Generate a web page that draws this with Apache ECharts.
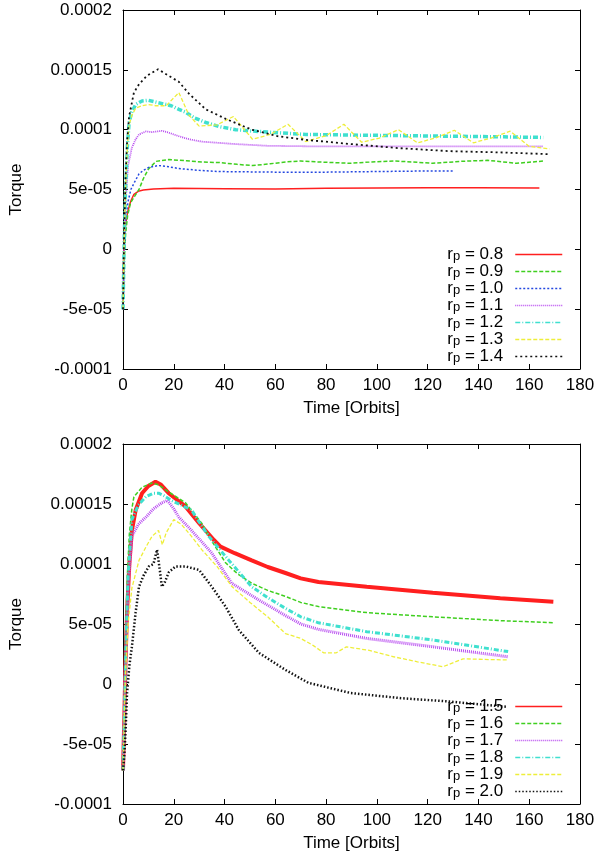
<!DOCTYPE html>
<html>
<head>
<meta charset="utf-8">
<script src="https://cdn.jsdelivr.net/npm/echarts@6/dist/echarts.min.js"></script>
<style>html,body{margin:0;padding:0;background:#fff;}#c{width:600px;height:859px;}</style>
</head>
<body>
<div id="c"></div>
<script>
// values in units of 1e-5 (torque), time in orbits
const SCALE = 1e-5;
const xTicksMin = 0, xTicksMax = 180, xTickStep = 20;
const yTickLabels = ['-0.0001', '-5e-05', '0', '5e-05', '0.0001', '0.00015', '0.0002'];

// top panel
const top08 = [[0,-2],[0.5,0.5],[1,2],[1.8,3.1],[3,4],[4.3,4.6],[6,4.85],[8,4.95],[12,5.05],[20,5.1],[40,5.07],[60,5.05],[80,5.1],[100,5.12],[120,5.15],[140,5.15],[164,5.12]];
const top09 = [[0,-5],[0.5,-1],[1,1.2],[1.8,2.8],[3,3.9],[4.5,4.4],[6.3,5.0],[8,5.9],[10,6.7],[13,7.35],[18,7.5],[25,7.4],[31,7.3],[38,7.25],[45,7.1],[51,7.0],[58,7.15],[64,7.3],[70,7.38],[77,7.3],[89.6,7.19],[98,7.3],[106.5,7.38],[114,7.3],[122,7.19],[133,7.35],[143.5,7.44],[155,7.19],[165.5,7.38]];
const top10 = [[0,-5],[0.5,0],[1,2.5],[2,4],[3.1,5],[4.5,5.6],[6.3,6.3],[8,6.6],[10.2,6.85],[14,7.0],[18,6.9],[22,6.75],[30,6.6],[37.7,6.5],[60,6.45],[80,6.45],[100,6.5],[120,6.55],[130,6.55]];
const top11 = [[0,-5],[0.5,0.5],[1,4],[2,7],[3.5,8.5],[5,9.2],[6.3,9.6],[9,9.85],[11.4,9.8],[15.3,9.9],[18,9.75],[22,9.45],[26,9.2],[31,9.0],[44,8.8],[57,8.65],[77,8.6],[100,8.6],[130,8.6],[165.5,8.6]];
const top12 = [[0,-5],[0.5,1],[1,5],[1.7,8.5],[2.4,10.6],[3.5,11.5],[5,12.1],[7.5,12.4],[10,12.45],[13,12.3],[17,12.1],[19,12.0],[22,11.7],[24.8,11.45],[28,11.0],[32.6,10.6],[38,10.25],[44.4,10.0],[50,9.9],[57,9.8],[72,9.6],[90,9.55],[110,9.5],[130,9.45],[150,9.4],[165.5,9.35]];
const top13 = [[0,-5],[0.5,1],[1,5],[1.7,8.5],[2.4,10.4],[3.5,11.2],[5,11.8],[7.5,12.0],[10,12.1],[13,12.0],[17,12.0],[22,13.1],[26,11.2],[30,10.3],[37,10.4],[43.5,11.1],[51,9.2],[58,9.6],[65,10.45],[72,9.0],[80,9.5],[87,10.45],[94,8.95],[101,9.3],[108.5,10.0],[116,8.9],[123,9.3],[130.5,9.95],[138,8.9],[145,9.3],[152.5,9.87],[160,8.6],[168,8.4]];
const top14 = [[0,-5],[0.4,1],[1,6],[1.6,9],[2.4,11.1],[4.3,13.1],[6.3,13.8],[9.4,14.5],[13.8,15.05],[18,14.5],[22,14.0],[26,13.0],[32.6,11.7],[40.5,10.9],[50.7,10.0],[61,9.45],[72,9.15],[89.6,8.8],[109,8.45],[129,8.2],[148.6,8.1],[168,7.95]];

// bottom panel
const bot15 = [[0,-7.2],[0.5,-3],[1,2],[1.6,6],[2.5,10],[3.5,12.8],[5,14.5],[7.5,15.9],[10,16.5],[12.8,16.86],[15,16.6],[18,15.9],[21,15.4],[24.6,14.8],[30,13.4],[35.8,12.0],[38.4,11.45],[44,10.9],[50.7,10.3],[57,9.75],[64,9.25],[70,8.8],[77,8.5],[96,8.1],[122,7.6],[148.6,7.15],[169.5,6.86]];
const bot16 = [[0,-7.2],[0.5,-2],[1,4],[1.7,9],[2.5,12.5],[3.5,14.6],[4.3,15.6],[7.5,16.4],[11.4,16.75],[14,16.6],[18,16.0],[24.6,15.1],[31,13.4],[35,11.9],[40.4,10.1],[45,9.2],[50.7,8.4],[57,7.8],[64,7.3],[70,6.8],[77,6.45],[96,5.95],[122,5.6],[148.6,5.28],[170,5.1]];
const bot17 = [[0,-7.2],[0.5,-3],[1,2],[2,8],[3.5,12.3],[6,13.3],[9,13.9],[12,14.6],[15.3,15.1],[17.5,15.3],[20,14.6],[22,13.9],[27,12.8],[35,10.9],[42.8,8.4],[53.5,7.0],[64,5.7],[70,5.0],[77,4.55],[96,3.8],[122,3.1],[151.7,2.27]];
const bot18 = [[0,-7.2],[0.5,-3],[1,2],[2,9],[3.5,13.7],[6,14.9],[9,15.6],[12,15.9],[14,15.9],[16,15.7],[19,15.3],[23,14.9],[27,14.5],[30,13.5],[33.8,12.3],[41.7,10.3],[50.7,8.1],[57,7.2],[64,6.3],[70,5.6],[77,5.1],[96,4.36],[122,3.67],[151.7,2.7]];
const bot19 = [[0,-7.2],[0.5,-3],[1,1],[2,5],[3.5,8],[6.3,10.3],[9,11.4],[11.4,12.3],[14,12.8],[15.5,11.6],[17,12.6],[20,13.7],[23,13.3],[27,12.3],[31,11.2],[37,9.8],[43,8.1],[50,6.8],[57,5.6],[64,4.2],[70,3.8],[75,3.2],[79,2.6],[84,2.6],[88,3.1],[97,2.8],[106.6,2.27],[116,1.85],[126,1.44],[134,2.1],[142,2.05],[151.7,2.0]];
const bot20 = [[0,-7.2],[0.5,-6],[1,-4],[1.6,-0.75],[2.5,1.5],[3.5,3.1],[5,6],[6.3,8.1],[8,9],[10.2,9.8],[12,10],[13.4,11.2],[14.5,9.5],[15.3,8.1],[16.5,8.5],[18,9.3],[20.7,9.8],[24.6,9.8],[30,9.5],[35,8.1],[40.4,6.45],[45.6,4.5],[53.5,2.6],[64,1.17],[73,0.1],[89.6,-0.75],[109,-1.17],[129,-1.47],[151,-1.9]];

const topLabels = ['0.8','0.9','1.0','1.1','1.2','1.3','1.4'];
const botLabels = ['1.5','1.6','1.7','1.8','1.9','2.0'];

const C = {red:'#ff1f1f', green:'#3fcf1f', blue:'#2448e0', mag:'#b84cf0', cyan:'#3fe0cf', yel:'#eeee3a', blk:'#111111'};

const FONT = 'Liberation Sans, Arial, Helvetica, sans-serif';
const FS = 17;
const yMin = -0.0001, yMax = 0.0002, yStep = 0.00005;

function scaled(arr){ return arr.map(p => [p[0], p[1]*SCALE]); }

const topStyles = [
  {c:C.red, w:1.5, t:'solid'},
  {c:C.green, w:1.5, t:[4,2]},
  {c:C.blue, w:1.5, t:[2,2]},
  {c:C.mag, w:1.8, t:[1,1]},
  {c:C.cyan, w:3.5, t:[5,2,1,2]},
  {c:C.yel, w:1.3, t:[4,2]},
  {c:C.blk, w:1.8, t:[2,3]}
];
const botStyles = [
  {c:C.red, w:4, t:'solid'},
  {c:C.green, w:1.5, t:[4,2]},
  {c:C.mag, w:3, t:[1,1]},
  {c:C.cyan, w:3, t:[5,2,1,2]},
  {c:C.yel, w:1.3, t:[4,2]},
  {c:C.blk, w:2.5, t:[1.5,2]}
];
const topData = [top08, top09, top10, top11, top12, top13, top14];
const botData = [bot15, bot16, bot17, bot18, bot19, bot20];

const series = [];
topData.forEach((d,i) => series.push({
  name: topLabels[i], type:'line', xAxisIndex:0, yAxisIndex:0, data: scaled(d),
  showSymbol:false, symbol:'none', animation:false,
  lineStyle:{color:topStyles[i].c, width:topStyles[i].w, type:topStyles[i].t}, itemStyle:{color:topStyles[i].c}
}));
botData.forEach((d,i) => series.push({
  name: botLabels[i], type:'line', xAxisIndex:2, yAxisIndex:2, data: scaled(d),
  showSymbol:false, symbol:'none', animation:false,
  lineStyle:{color:botStyles[i].c, width:botStyles[i].w, type:botStyles[i].t}, itemStyle:{color:botStyles[i].c}
}));

function xAx(gi, pos, labels){
  return {
    type:'value', gridIndex:gi, position:pos, min:xTicksMin, max:xTicksMax, interval:xTickStep,
    axisLine:{show:true, onZero:false, lineStyle:{color:'#000', width:1}},
    axisTick:{show:true, inside:true, length:5, lineStyle:{color:'#000'}},
    axisLabel:{show:labels, color:'#000', fontSize:FS, fontFamily:FONT, margin:8},
    splitLine:{show:false},
    name: labels ? 'Time [Orbits]' : '', nameLocation:'middle', nameGap:31,
    nameTextStyle:{color:'#000', fontSize:FS, fontFamily:FONT}
  };
}
function yAx(gi, pos, labels){
  return {
    type:'value', gridIndex:gi, position:pos, min:yMin, max:yMax, interval:yStep,
    axisLine:{show:true, onZero:false, lineStyle:{color:'#000', width:1}},
    axisTick:{show:true, inside:true, length:5, lineStyle:{color:'#000'}},
    axisLabel:{show:labels, color:'#000', fontSize:FS, fontFamily:FONT, margin:11,
      formatter: v => yTickLabels[Math.round((v - yMin)/yStep)]},
    splitLine:{show:false},
    name: labels ? 'Torque' : '', nameLocation:'middle', nameGap:98, nameRotate:90,
    nameTextStyle:{color:'#000', fontSize:FS, fontFamily:FONT}
  };
}

function legend(names, top){
  return {
    orient:'vertical', right:32, top:top, align:'right', itemWidth:47, itemHeight:8, itemGap:0,
    data:names, selectedMode:false,
    itemStyle:{opacity:0},
    lineStyle:{width:1.5, opacity:1},
    formatter: n => '{r|r}{s|p}{n| = ' + n + '}',
    textStyle:{color:'#000', fontFamily:FONT, fontSize:FS, padding:[0,7,0,0],
      rich:{
        r:{fontSize:FS, fontFamily:FONT, color:'#000', lineHeight:17, verticalAlign:'middle'},
        s:{fontSize:13, fontFamily:FONT, color:'#000', lineHeight:17, verticalAlign:'bottom'},
        n:{fontSize:FS, fontFamily:FONT, color:'#000', lineHeight:17, verticalAlign:'middle'}
      }}
  };
}

const option = {
  backgroundColor:'#fff',
  animation:false,
  grid:[
    {left:122, top:10, width:458, height:359},
    {left:122, top:444, width:458, height:360}
  ],
  xAxis:[xAx(0,'bottom',true), xAx(0,'top',false), xAx(1,'bottom',true), xAx(1,'top',false)],
  yAxis:[yAx(0,'left',true), yAx(0,'right',false), yAx(1,'left',true), yAx(1,'right',false)],
  legend:[legend(topLabels, 241), legend(botLabels, 693)],
  series: series
};

const chart = echarts.init(document.getElementById('c'), null, {renderer:'canvas'});
chart.setOption(option);
</script>
</body>
</html>
